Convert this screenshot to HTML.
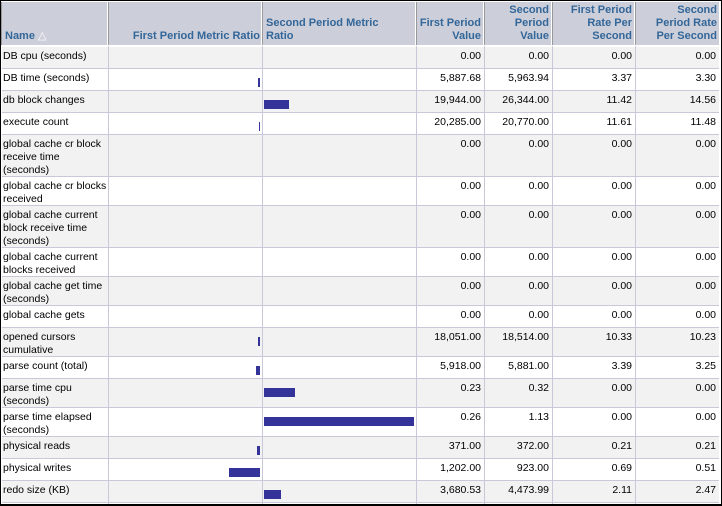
<!DOCTYPE html><html><head><style>
body{margin:0;width:722px;height:506px;overflow:hidden;background:#fff;font-family:"Liberation Sans",sans-serif;}
#f{position:absolute;left:0;top:0;width:722px;height:506px;background:#fff;overflow:hidden}
#bd{position:absolute;left:0;top:0;width:720px;height:503px;border:1px solid #000;border-width:1px 1px 2px 1px;z-index:5}
.h{position:absolute;top:2px;height:43px;background:#cccfd9;color:#336699;font-weight:bold;font-size:11px;line-height:13px;box-sizing:border-box;padding:0 2px 2px 3px;display:flex;align-items:flex-end;border-right:1px solid #fff;border-left:1px solid #999;white-space:nowrap}
.r{position:absolute;left:2px;width:717px;border-bottom:1px solid #c8c8d8;box-sizing:border-box}
.v{position:absolute;top:46px;bottom:0;width:1px;background:#c8c8d8}
.c{position:absolute;font-size:10.5px;line-height:13px;color:#000;white-space:nowrap}
.n{text-align:right}
.b{position:absolute;background:#333399;height:9px}
</style></head><body><div id="f">
<div id="bd"></div>
<div class="h" style="left:1px;width:107px">Name <span style="color:#fff;font-weight:normal;margin-left:3px">△</span></div>
<div class="h" style="left:108px;width:154px;justify-content:flex-end;padding-right:1px">First Period Metric Ratio</div>
<div class="h" style="left:262px;width:154px">Second Period Metric<br>Ratio</div>
<div class="h" style="left:416px;width:68px;justify-content:flex-end;text-align:right">First Period<br>Value</div>
<div class="h" style="left:484px;width:68px;justify-content:flex-end;text-align:right">Second<br>Period<br>Value</div>
<div class="h" style="left:552px;width:83px;justify-content:flex-end;text-align:right">First Period<br>Rate Per<br>Second</div>
<div class="h" style="left:635px;width:85px;justify-content:flex-end;text-align:right">Second<br>Period Rate<br>Per Second</div>
<div id="rows"></div>
</div>
<script>
var d=[
["DB cpu (seconds)",46,68,"0.00","0.00","0.00","0.00"],
["DB time (seconds)",68,90,"5,887.68","5,963.94","3.37","3.30",[258,260]],
["db block changes",90,112,"19,944.00","26,344.00","11.42","14.56",[264,289]],
["execute count",112,134,"20,285.00","20,770.00","11.61","11.48",[259,260]],
["global cache cr block<br>receive time<br>(seconds)",134,176,"0.00","0.00","0.00","0.00"],
["global cache cr blocks<br>received",176,205,"0.00","0.00","0.00","0.00"],
["global cache current<br>block receive time<br>(seconds)",205,247,"0.00","0.00","0.00","0.00"],
["global cache current<br>blocks received",247,276,"0.00","0.00","0.00","0.00"],
["global cache get time<br>(seconds)",276,305,"0.00","0.00","0.00","0.00"],
["global cache gets",305,327,"0.00","0.00","0.00","0.00"],
["opened cursors<br>cumulative",327,356,"18,051.00","18,514.00","10.33","10.23",[258,260]],
["parse count (total)",356,378,"5,918.00","5,881.00","3.39","3.25",[256,260]],
["parse time cpu<br>(seconds)",378,407,"0.23","0.32","0.00","0.00",[264,295]],
["parse time elapsed<br>(seconds)",407,436,"0.26","1.13","0.00","0.00",[264,414]],
["physical reads",436,458,"371.00","372.00","0.21","0.21",[257,260]],
["physical writes",458,480,"1,202.00","923.00","0.69","0.51",[229,260]],
["redo size (KB)",480,502,"3,680.53","4,473.99","2.11","2.47",[264,281]]];
var h="",cols=[[416,484],[484,552],[552,635],[635,719]];
d.forEach(function(r,i){
h+='<div class="r" style="top:'+(r[1]+1)+'px;height:'+(r[2]-r[1])+'px;background:'+(i%2?'#fff':'#f2f2f2')+'"></div>';
h+='<div class="c" style="left:3px;top:'+(r[1]+4)+'px">'+r[0]+'</div>';
for(var k=0;k<4;k++)h+='<div class="c n" style="left:'+cols[k][0]+'px;width:'+(cols[k][1]-cols[k][0]-3)+'px;top:'+(r[1]+4)+'px">'+r[3+k]+'</div>';
if(r[7])h+='<div class="b" style="left:'+r[7][0]+'px;width:'+(r[7][1]-r[7][0])+'px;top:'+(r[1]+10)+'px"></div>';
});
[108,262,416,484,552,635].forEach(function(x){h+='<div class="v" style="left:'+x+'px"></div>'});
document.getElementById('rows').innerHTML=h;
</script>
</body></html>
